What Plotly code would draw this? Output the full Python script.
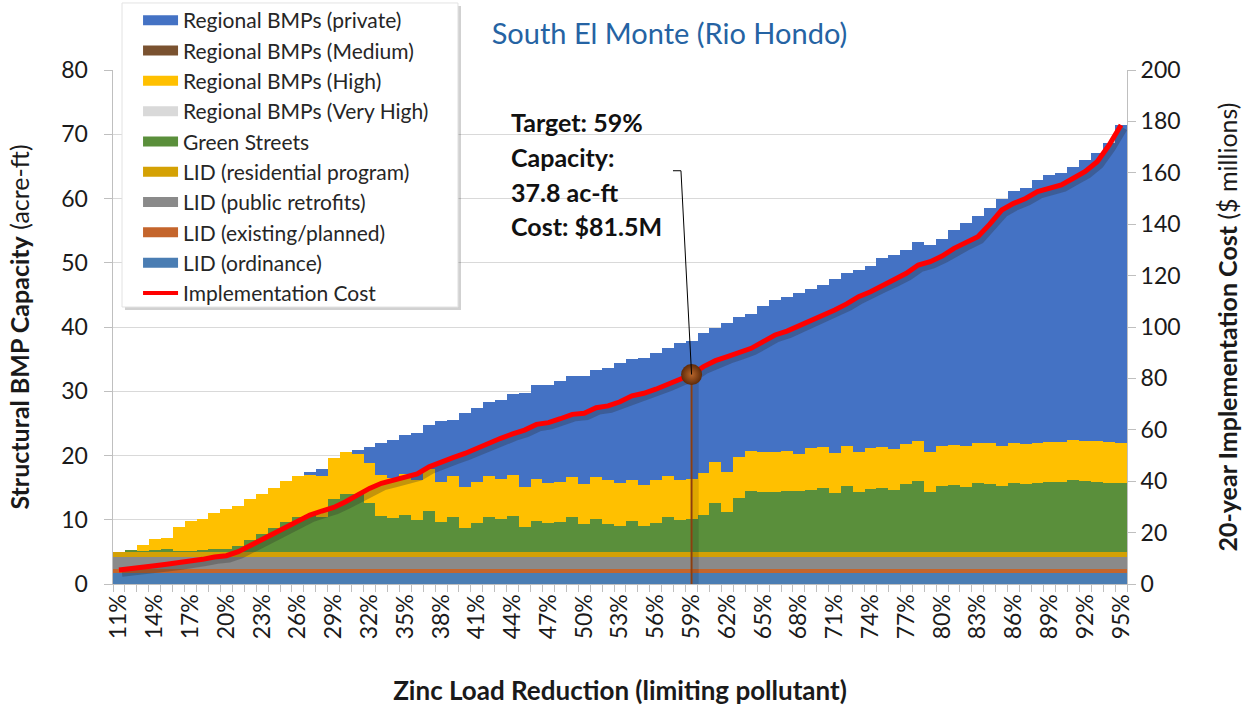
import plotly.graph_objects as go

# Zinc load reduction categories (x axis)
reduction_pct = list(range(11, 96))
labels = [f"{p}%" for p in reduction_pct]
n = len(labels)
xs = list(range(n))

# Structural BMP capacity by type (acre-ft), stacked
lid_ordinance = [1.75] * n
lid_existing = [0.6] * n
lid_public = [1.9] * n
lid_residential = [0.8] * n
green_streets = [
    0.0, 0.25, 0.15, 0.25, 0.4, 0.05, 0.05, 0.25, 0.35, 0.35,
    0.9, 1.8, 2.7, 3.7, 4.65, 5.45, 5.7, 5.35, 8.15, 8.95,
    8.95, 7.6, 5.55, 5.25, 5.7, 4.9, 6.35, 4.55, 5.45, 3.7,
    4.5, 5.45, 5.0, 5.55, 3.85, 4.8, 4.5, 4.6, 5.35, 4.3,
    5.1, 4.3, 4.05, 4.8, 4.0, 4.5, 5.45, 4.9, 5.0, 5.7,
    7.6, 6.2, 8.4, 9.45, 9.3, 9.2, 9.45, 9.35, 9.65, 9.95,
    9.05, 10.2, 9.3, 9.75, 9.95, 9.65, 10.5, 11.0, 9.3, 10.25,
    10.35, 10.05, 10.6, 10.5, 10.25, 10.7, 10.5, 10.6, 10.85, 10.75,
    11.15, 11.0, 10.85, 10.7, 10.6,
]
regional_very_high = [0.0] * n
regional_high = [
    0.0, 0.0, 0.87, 1.65, 1.75, 3.8, 4.7, 4.77, 5.7, 6.2,
    6.23, 6.45, 6.27, 6.23, 6.4, 6.3, 6.26, 6.4, 6.35, 6.5,
    6.3, 6.24, 6.3, 6.15, 6.3, 6.3, 6.45, 6.3, 6.3, 6.28,
    6.35, 6.36, 6.23, 6.36, 6.25, 6.44, 6.22, 6.25, 6.3, 6.22,
    6.43, 6.85, 6.69, 6.33, 6.37, 6.64, 6.38, 6.23, 6.23, 6.46,
    6.38, 6.24, 6.36, 6.25, 6.23, 6.33, 6.25, 5.9, 6.4, 6.3,
    6.3, 6.25, 6.23, 6.3, 6.3, 6.3, 6.24, 6.17, 6.23, 6.2,
    6.2, 6.4, 6.23, 6.34, 6.25, 6.23, 6.24, 6.24, 6.2, 6.3,
    6.2, 6.2, 6.3, 6.33, 6.34,
]
regional_medium = [0.0] * n
regional_private = [
    0.0, 0.0, 0.0, 0.0, 0.0, 0.0, 0.0, 0.0, 0.0, 0.0,
    0.0, 0.0, 0.0, 0.0, 0.0, 0.0, 0.4, 1.05, 0.0, 0.0,
    0.6, 2.5, 5.1, 5.95, 6.16, 7.3, 6.9, 9.5, 8.8, 11.55,
    11.55, 11.54, 12.4, 12.54, 14.65, 14.7, 15.23, 15.7, 15.7, 16.84,
    16.8, 17.38, 18.58, 18.78, 19.7, 19.81, 19.84, 21.27, 21.52, 21.8,
    20.76, 23.1, 21.8, 21.35, 22.67, 23.7, 23.95, 25.04, 24.8, 25.3,
    27.0, 26.95, 28.37, 28.4, 29.4, 30.2, 30.2, 31.05, 32.2, 32.15,
    33.5, 34.7, 35.4, 36.7, 38.3, 39.2, 39.9, 41.0, 41.56, 41.8,
    42.45, 43.7, 44.9, 46.5, 49.4,
]

# 20-year implementation cost ($ millions)
implementation_cost = [
    5.45, 5.85, 6.5, 7.1, 7.65, 8.2, 8.7, 9.6, 10.5, 11.0,
    12.6, 15.0, 17.3, 19.7, 22.1, 24.1, 26.8, 28.4, 29.8, 32.0,
    34.6, 37.2, 39.2, 40.4, 41.5, 42.8, 45.6, 47.6, 49.2, 50.8,
    52.8, 55.0, 56.7, 58.4, 59.9, 62.1, 62.8, 64.3, 66.0, 66.4,
    68.6, 69.3, 70.9, 73.2, 74.2, 75.8, 77.8, 79.8, 81.5, 84.6,
    86.9, 88.5, 90.0, 91.7, 94.3, 96.9, 98.4, 100.5, 102.1, 104.7,
    106.6, 109.0, 111.8, 113.7, 116.3, 118.5, 120.9, 124.1, 125.4, 127.6,
    130.6, 132.8, 135.1, 140.0, 145.5, 148.1, 150.0, 152.7, 154.0, 155.3,
    157.9, 160.5, 164.3, 170.8, 178.6,
]

target_pct = 59

FONT = "Lato"
TEXT = "#1a1a1a"
AXIS_GRAY = "#bfbfbf"

# (name, values, colour) from bottom of the stack to the top
stack = [
    ("LID (ordinance)", lid_ordinance, "#4A7DB3"),
    ("LID (existing/planned)", lid_existing, "#C4652C"),
    ("LID (public retrofits)", lid_public, "#8A8A8A"),
    ("LID (residential program)", lid_residential, "#D4A104"),
    ("Green Streets", green_streets, "#5A8F3B"),
    ("Regional BMPs (Very High)", regional_very_high, "#D9D9D9"),
    ("Regional BMPs (High)", regional_high, "#FFC000"),
    ("Regional BMPs (Medium)", regional_medium, "#7A5230"),
    ("Regional BMPs (private)", regional_private, "#4472C4"),
]

fig = go.Figure()

for name, vals, col in stack:
    fig.add_trace(go.Bar(
        x=xs, y=vals, name=name, marker=dict(color=col, line=dict(width=0)),
        width=1.0, showlegend=False, hoverinfo="skip",
    ))

ti = reduction_pct.index(target_pct)
target_cap = sum(s[1][ti] for s in stack)
target_cost = implementation_cost[ti]

# soft shadow under the target drop line
fig.add_trace(go.Scatter(
    x=[ti + 0.08, ti + 0.6, ti + 0.6, ti + 0.08], y=[0, 0, target_cost, target_cost],
    yaxis="y2", mode="lines", fill="toself", fillcolor="rgba(0,0,0,0.13)",
    line=dict(width=0), showlegend=False, hoverinfo="skip",
))

# drop shadow of the cost line
fig.add_trace(go.Scatter(
    x=[x + 0.25 for x in xs], y=[c - 1.3 for c in implementation_cost], yaxis="y2",
    mode="lines", line=dict(color="rgba(40,40,40,0.28)", width=7),
    showlegend=False, hoverinfo="skip",
))

fig.add_trace(go.Scatter(
    x=xs, y=implementation_cost, yaxis="y2", mode="lines", name="Implementation Cost",
    line=dict(color="#FF0000", width=5), showlegend=False,
))

# vertical target line and marker
fig.add_trace(go.Scatter(
    x=[ti, ti], y=[0, target_cost], yaxis="y2", mode="lines",
    line=dict(color="#8B3E0F", width=2), showlegend=False, hoverinfo="skip",
))
fig.add_trace(go.Scatter(
    x=[ti], y=[target_cost], yaxis="y2", mode="markers",
    marker=dict(size=21, color="#5E2A08", gradient=dict(type="radial", color="#B8652B"),
                line=dict(width=0)),
    showlegend=False, hoverinfo="skip",
))

# legend entries (top to bottom)
legend_items = [(nm, col) for nm, _, col in stack][::-1]
for rank, (nm, col) in enumerate(legend_items):
    fig.add_trace(go.Scatter(
        x=[None], y=[None], mode="lines", name=nm, legendrank=rank,
        line=dict(color=col, width=12),
    ))
fig.add_trace(go.Scatter(
    x=[None], y=[None], mode="lines", name="Implementation Cost",
    legendrank=len(legend_items), line=dict(color="#FF0000", width=4),
))

# annotation block
ann_lines = [
    f"Target: {target_pct}%",
    "Capacity:",
    f"{target_cap:.1f} ac-ft",
    f"Cost: ${target_cost:.1f}M",
]
ann_y = [0.899, 0.831, 0.763, 0.696]
annotations = []
for txt, yy in zip(ann_lines, ann_y):
    annotations.append(dict(
        text=f"<b>{txt}</b>", xref="paper", yref="paper", x=0.3905, y=yy,
        xanchor="left", yanchor="middle", showarrow=False,
        font=dict(family=FONT, size=25, color="#111111"),
    ))

shapes = [
    # legend panel: shadow then white box
    dict(type="rect", xref="paper", yref="paper", layer="above",
         x0=0.0118, x1=0.3432, y0=0.533, y1=1.1246,
         fillcolor="rgba(0,0,0,0.18)", line=dict(width=0)),
    dict(type="rect", xref="paper", yref="paper", layer="above",
         x0=0.0089, x1=0.3402, y0=0.5389, y1=1.1304,
         fillcolor="white", line=dict(color="#e3e3e3", width=1)),
    # leader from the annotation to the target marker
    dict(type="path", xref="x", yref="y2", layer="above",
         path=f"M {ti - 1.56},160.8 L {ti - 0.89},160.8 L {ti},{target_cost}",
         line=dict(color="#000000", width=1)),
]

fig.update_layout(
    width=1249, height=711,
    margin=dict(l=113, r=122, t=70, b=127, autoexpand=False),
    paper_bgcolor="white", plot_bgcolor="white",
    barmode="stack", bargap=0,
    font=dict(family=FONT, color=TEXT),
    title=dict(text="South El Monte (Rio Hondo)", x=0.536, y=0.953,
               xanchor="center", yanchor="middle",
               font=dict(family=FONT, size=29, color="#2563A3")),
    xaxis=dict(
        range=[-0.5, n - 0.5], tickmode="array", tickvals=xs[::3], ticktext=labels[::3],
        tickangle=-90, ticks="", showgrid=False, zeroline=False,
        showline=True, linecolor=AXIS_GRAY, linewidth=1,
        tickfont=dict(family=FONT, size=23, color=TEXT),
        minor=dict(tickmode="array", tickvals=[i - 0.5 for i in range(n + 1)],
                   ticks="outside", ticklen=7, tickcolor=AXIS_GRAY, showgrid=False),
        title=dict(text="<b>Zinc Load Reduction (limiting pollutant)</b>",
                   font=dict(family=FONT, size=26, color=TEXT), standoff=43),
        automargin=False,
    ),
    yaxis=dict(
        range=[0, 80], dtick=10, showgrid=True, gridcolor="#d9d9d9", gridwidth=1,
        zeroline=False, showline=True, linecolor=AXIS_GRAY, ticks="outside",
        ticklen=8, tickcolor=AXIS_GRAY, ticksuffix="\u2002",
        tickfont=dict(family=FONT, size=23, color=TEXT),
        title=dict(text="<b>Structural BMP Capacity</b> (acre-ft)",
                   font=dict(family=FONT, size=25, color=TEXT), standoff=24),
        automargin=False,
    ),
    yaxis2=dict(
        range=[0, 200], dtick=20, overlaying="y", side="right", showgrid=False,
        zeroline=False, showline=True, linecolor=AXIS_GRAY, ticks="outside",
        ticklen=8, tickcolor=AXIS_GRAY,
        tickfont=dict(family=FONT, size=23, color=TEXT),
        title=dict(text="<b>20-year Implementation Cost</b> ($ millions)",
                   font=dict(family=FONT, size=25, color=TEXT), standoff=39),
        automargin=False,
    ),
    legend=dict(
        x=0.0247, y=1.136, xanchor="left", yanchor="top",
        bgcolor="rgba(0,0,0,0)", borderwidth=0,
        font=dict(family=FONT, size=21, color="#262626"),
        traceorder="normal", itemwidth=35,
    ),
    annotations=annotations,
    shapes=shapes,
    showlegend=True,
)

fig.write_html("out.html")
